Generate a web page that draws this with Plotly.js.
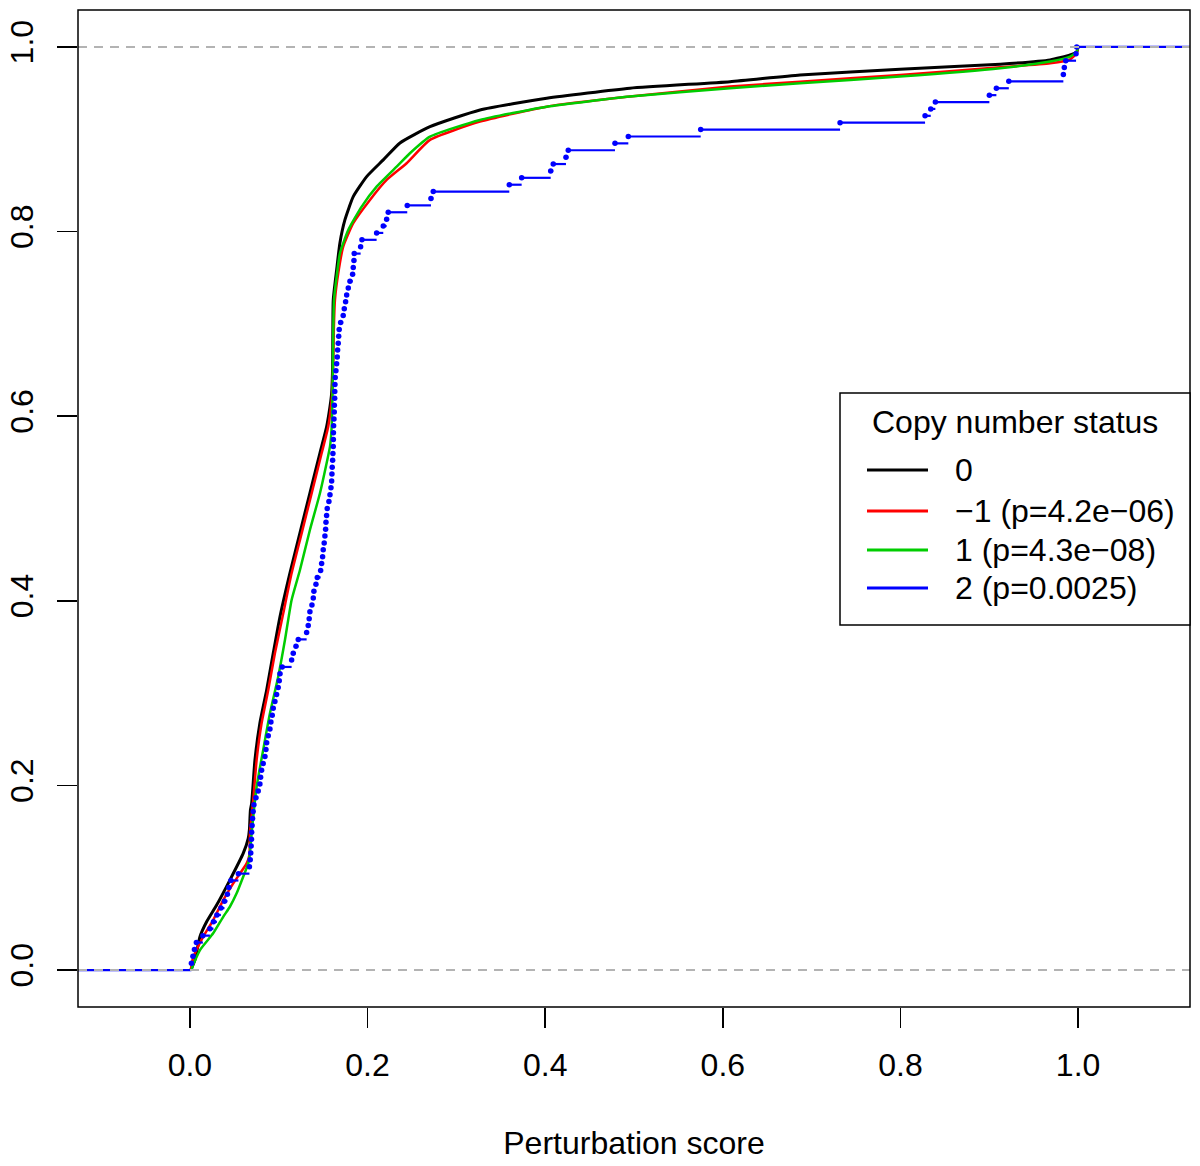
<!DOCTYPE html>
<html><head><meta charset="utf-8">
<script src="https://cdn.plot.ly/plotly-3.0.1.min.js"></script>
<style>html,body{margin:0;padding:0;background:#fff}#chart{width:1200px;height:1166px}</style>
</head><body><div id="chart"></div>
<script>
// ---- labels ----
const seriesNames = ["0", "\u22121 (p=4.2e\u221206)", "1 (p=4.3e\u221208)", "2 (p=0.0025)"];
const seriesColors = ["#000000", "#ff0000", "#00cd00", "#0000ff"];
const legendTitle = "Copy number status";
const xTitle = "Perturbation score";
const xTickVals = [0, 0.2, 0.4, 0.6, 0.8, 1.0];
const xTickText = ["0.0", "0.2", "0.4", "0.6", "0.8", "1.0"];
const yTickVals = [0, 0.2, 0.4, 0.6, 0.8, 1.0];
const yTickText = ["0.0", "0.2", "0.4", "0.6", "0.8", "1.0"];
const refLevels = [0, 1];

// ---- ECDF curves (dense groups) ----
const cn0X = [0.001,0.0056,0.0113,0.0188,0.0301,0.0450,0.0600,0.0657,0.0670,0.0681,0.0695,0.0732,0.0788,0.0864,0.0938,0.1014,0.1126,0.1239,0.1351,0.1464,0.1539,0.1577,0.1596,0.1607,0.1614,0.1652,0.1689,0.1745,0.1839,0.1990,0.2177,0.2365,0.2703,0.3266,0.4017,0.4955,0.6081,0.6869,0.7995,0.9122,0.9685,0.9910,0.9985,1.0];
const cn0Y = [0,0.0108,0.0361,0.0523,0.0704,0.0975,0.1264,0.1427,0.1520,0.1733,0.1806,0.2275,0.2676,0.3034,0.3431,0.3828,0.4301,0.4735,0.5168,0.5601,0.5886,0.6103,0.6251,0.6536,0.7259,0.7584,0.7877,0.8126,0.8378,0.8595,0.8776,0.8960,0.9136,0.9317,0.9444,0.9553,0.9624,0.9697,0.9758,0.9813,0.9859,0.9913,0.9949,1.0];

const cnM1X = [0.001,0.0034,0.0150,0.0262,0.0375,0.0488,0.0639,0.0670,0.0676,0.0713,0.0751,0.0807,0.0882,0.0957,0.1051,0.1145,0.1258,0.1371,0.1483,0.1557,0.1596,0.1607,0.1614,0.1620,0.1633,0.1670,0.1726,0.1839,0.2027,0.2215,0.2440,0.2703,0.3266,0.4017,0.4955,0.6081,0.6869,0.7995,0.9122,0.9685,0.9910,0.9985,1.0];
const cnM1Y = [0,0.013,0.0361,0.0542,0.0758,0.0939,0.1156,0.1246,0.1481,0.1842,0.2275,0.2673,0.3034,0.3431,0.3865,0.4298,0.4731,0.5165,0.5598,0.5886,0.6176,0.6356,0.6600,0.6930,0.7259,0.7548,0.7836,0.8090,0.8342,0.8559,0.8740,0.8993,0.9191,0.9353,0.9462,0.9570,0.9624,0.9697,0.9780,0.9823,0.9866,0.9932,1.0];

const cnP1X = [0.0019,0.0028,0.0113,0.0262,0.0375,0.0450,0.0526,0.0600,0.0657,0.0676,0.0695,0.0751,0.0825,0.0901,0.0994,0.1070,0.1145,0.1239,0.1351,0.1464,0.1539,0.1577,0.1596,0.1607,0.1614,0.1622,0.1652,0.1689,0.1783,0.1934,0.2102,0.2328,0.2477,0.2703,0.3266,0.4017,0.4955,0.6081,0.6869,0.7995,0.9122,0.9685,0.9910,0.9985,1.0];
const cnP1Y = [0,0.0036,0.0217,0.0398,0.0577,0.0686,0.0831,0.1011,0.1156,0.1268,0.1481,0.1986,0.2384,0.2781,0.3178,0.3575,0.4009,0.4334,0.4767,0.5165,0.5490,0.5670,0.5886,0.6320,0.6898,0.7259,0.7511,0.7765,0.8017,0.8270,0.8486,0.8703,0.8848,0.9028,0.9209,0.9353,0.9462,0.9553,0.9607,0.9679,0.9769,0.9841,0.9895,0.9949,1.0];

// ---- copy number 2: individual sorted scores (small group) ----
const cnP2Scores = [0.0017,0.0034,0.0051,0.0073,0.0146,0.0225,0.0265,0.0304,0.0349,0.0389,
0.0422,0.0439,0.0462,0.0546,0.0670,0.0679,0.0685,0.0689,0.0693,0.0695,
0.0700,0.0706,0.0713,0.0721,0.0743,0.0769,0.0788,0.0796,0.0807,0.0825,
0.0845,0.0856,0.0864,0.0882,0.0901,0.0912,0.0927,0.0938,0.0957,0.0976,
0.0994,0.1006,0.1014,0.1039,0.1145,0.1163,0.1194,0.1220,0.1314,0.1332,
0.1343,0.1351,0.1374,0.1389,0.1396,0.1419,0.1434,0.1472,0.1483,0.1494,
0.1501,0.1512,0.1520,0.1528,0.1532,0.1539,0.1546,0.1565,0.1577,0.1588,
0.1596,0.1599,0.1602,0.1607,0.1610,0.1614,0.1615,0.1616,0.1618,0.1622,
0.1625,0.1626,0.1630,0.1631,0.1633,0.1636,0.1644,0.1652,0.1659,0.1663,
0.1670,0.1675,0.1681,0.1697,0.1726,0.1738,0.1753,0.1765,0.1783,0.1802,
0.1832,0.1839,0.1847,0.1850,0.1922,0.1937,0.2102,0.2177,0.2215,0.2233,
0.2447,0.2714,0.2740,0.3596,0.3735,0.4062,0.4091,0.4234,0.4260,0.4786,
0.4936,0.5751,0.7320,0.8277,0.8341,0.8393,0.9001,0.9080,0.9220,0.9834,
0.9845,0.9861,0.9977,0.9985];

const xRange = [-0.126, 1.126];
const yRange = [-0.04, 1.04];
const FONT = "Liberation Sans, Arial, Helvetica, sans-serif";

const traces = [];
const curves = [[cn0X, cn0Y, 3], [cnM1X, cnM1Y, 2.5], [cnP1X, cnP1Y, 2.5]];
curves.forEach((c, k) => {
  const xs = c[0], ys = c[1];
  // flat extensions left of first and right of last observation
  traces.push({
    type: "scatter", mode: "lines", showlegend: false, hoverinfo: "skip",
    x: [xRange[0], xs[0], null, xs[xs.length - 1], xRange[1]],
    y: [0, 0, null, 1, 1],
    line: {color: seriesColors[k], width: 2}
  });
  traces.push({
    type: "scatter", mode: "lines", name: seriesNames[k], showlegend: false,
    x: xs, y: ys,
    line: {color: seriesColors[k], width: c[2], shape: "spline", smoothing: 0.5}, hoverinfo: "skip"
  });
});

// step function for group 2 (horizontal segments, no verticals)
const n = cnP2Scores.length;
const segX = [xRange[0], cnP2Scores[0], null];
const segY = [0, 0, null];
const ptY = [];
for (let i = 0; i < n; i++) {
  const yv = (i + 1) / n;
  ptY.push(yv);
  const xEnd = i < n - 1 ? cnP2Scores[i + 1] : xRange[1];
  segX.push(cnP2Scores[i], xEnd, null);
  segY.push(yv, yv, null);
}
traces.push({
  type: "scatter", mode: "lines", x: segX, y: segY, showlegend: false,
  line: {color: seriesColors[3], width: 2.2}, hoverinfo: "skip", connectgaps: false
});
traces.push({
  type: "scatter", mode: "markers", x: cnP2Scores, y: ptY, showlegend: false, name: seriesNames[3],
  marker: {color: seriesColors[3], size: 5.5}, hoverinfo: "skip"
});

// reference dashed lines at 0 and 1
refLevels.forEach(v => {
  traces.push({
    type: "scatter", mode: "lines", x: xRange, y: [v, v], showlegend: false,
    line: {color: "#b3b3b3", width: 2, dash: "9px,7px"}, hoverinfo: "skip"
  });
});

// manual legend (R style)
const px2x = p => (p - 78) / 1112;
const px2y = p => (1007 - p) / 997;
const shapes = [
  {type: "rect", xref: "paper", yref: "paper", x0: 0, x1: 1, y0: 0, y1: 1, line: {color: "#000", width: 1.5}},
  {type: "rect", xref: "paper", yref: "paper", x0: px2x(840), x1: 1, y0: px2y(625), y1: px2y(393),
   line: {color: "#000", width: 1.5}, fillcolor: "#fff", layer: "above"}
];
const annotations = [
  {xref: "paper", yref: "paper", x: px2x(1015), y: px2y(422), text: legendTitle, showarrow: false,
   xanchor: "center", yanchor: "middle", font: {family: FONT, size: 32, color: "#000"}}
];
const entryY = [470, 511, 550, 588];
seriesNames.forEach((nm, k) => {
  shapes.push({type: "line", xref: "paper", yref: "paper", x0: px2x(867), x1: px2x(928),
    y0: px2y(entryY[k]), y1: px2y(entryY[k]), line: {color: seriesColors[k], width: 3}, layer: "above"});
  annotations.push({xref: "paper", yref: "paper", x: px2x(953), y: px2y(entryY[k]), text: nm, showarrow: false,
    xanchor: "left", yanchor: "middle", font: {family: FONT, size: 32, color: "#000"}});
});

const layout = {
  width: 1200, height: 1166,
  margin: {l: 78, r: 10, t: 10, b: 159},
  paper_bgcolor: "#fff", plot_bgcolor: "#fff",
  font: {family: FONT, size: 32, color: "#000"},
  showlegend: false,
  xaxis: {
    range: xRange, tickvals: xTickVals, ticktext: xTickText, ticks: "outside", ticklen: 20, tickwidth: 1.5,
    tickcolor: "#000", showgrid: false, zeroline: false, showline: false,
    tickfont: {family: FONT, size: 32}, ticklabelstandoff: 10,
    title: {text: xTitle, font: {family: FONT, size: 32}, standoff: 49}
  },
  yaxis: {
    range: yRange, tickvals: yTickVals, ticktext: yTickText, ticks: "outside", ticklen: 20, tickwidth: 1.5,
    tickcolor: "#000", showgrid: false, zeroline: false, showline: false, tickangle: -90,
    tickfont: {family: FONT, size: 32}, ticklabelstandoff: 11
  },
  shapes: shapes, annotations: annotations
};
Plotly.newPlot("chart", traces, layout, {displayModeBar: false, staticPlot: true});
</script></body></html>
